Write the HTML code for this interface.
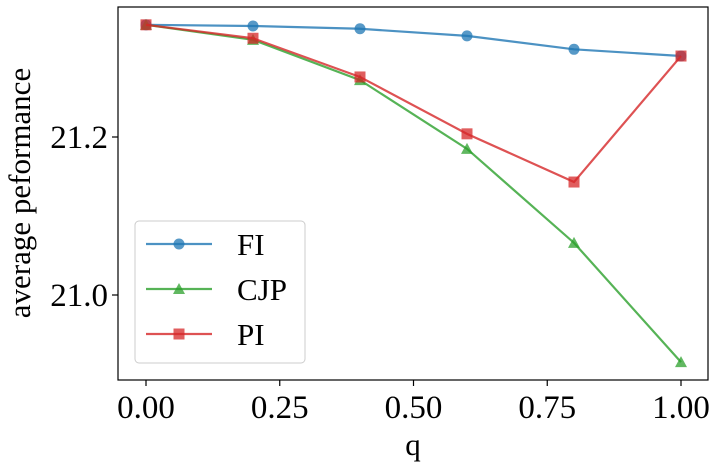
<!DOCTYPE html>
<html><head><meta charset="utf-8"><style>
body{margin:0;background:#fff}
text{font-family:"Liberation Serif",serif;fill:#000}
</style></head><body>
<svg id="chart" width="714" height="465">
<g id="plot"></g>
</svg>
<script>
const qValues=[0,0.2,0.4,0.6,0.8,1.0];
const fiValues=[21.342,21.3405,21.337,21.328,21.311,21.3025];
const cjpValues=[21.342,21.323,21.272,21.185,21.066,20.915];
const piValues=[21.342,21.325,21.276,21.204,21.143,21.3025];
const xTicks=[0,0.25,0.5,0.75,1.0];
const xTickLabels=["0.00","0.25","0.50","0.75","1.00"];
const yTicks=[21.0,21.2];
const yTickLabels=["21.0","21.2"];
const L=118,R=708,T=7,B=380;
function xs(v){return 146+v*(681-146);}
function ys(v){return 295-(v-21.0)*790;}
const NS="http://www.w3.org/2000/svg";
const g=document.getElementById('plot');
function mk(tag,attrs,parent){const e=document.createElementNS(NS,tag);for(const k in attrs)e.setAttribute(k,attrs[k]);(parent||g).appendChild(e);return e;}
xTicks.forEach((t,i)=>{
 const l=mk('line',{x1:xs(t),x2:xs(t),y1:B,y2:B+6,stroke:'#000','stroke-width':1.2});
 
 
 const tx=mk('text',{x:xs(t),y:B+38,'text-anchor':'middle','font-size':33});
 tx.textContent=xTickLabels[i];
 
 
});
yTicks.forEach((t,i)=>{
 const l=mk('line',{x1:L-6,x2:L,y1:ys(t),y2:ys(t),stroke:'#000','stroke-width':1.2});
 
 
 const tx=mk('text',{x:L-10,y:ys(t)+11,'text-anchor':'end','font-size':33});
 tx.textContent=yTickLabels[i];
 
 
});
const series=[
 {name:'FI',vals:fiValues,color:'#1f77b4',m:'circle'},
 {name:'CJP',vals:cjpValues,color:'#2ca02c',m:'tri'},
 {name:'PI',vals:piValues,color:'#d62728',m:'square'}];
function marker(type,x,y,c,parent){
 let e;
 if(type==='circle')e=mk('circle',{cx:x,cy:y,r:5.5,fill:c,'fill-opacity':0.75},parent);
 else if(type==='tri')e=mk('polygon',{points:`${x},${y-6} ${x-6},${y+5} ${x+6},${y+5}`,fill:c,'fill-opacity':0.75},parent);
 else e=mk('rect',{x:x-5.5,y:y-5.5,width:11,height:11,fill:c,'fill-opacity':0.75},parent);
 
 
}
series.forEach(s=>{
 const p=mk('polyline',{points:s.vals.map((v,i)=>xs(qValues[i])+','+ys(v)).join(' '),fill:'none',stroke:s.color,'stroke-width':2.2,'stroke-opacity':0.8});
 
 
 s.vals.forEach((v,i)=>marker(s.m,xs(qValues[i]),ys(v),s.color));
});
const fr=mk('rect',{x:L,y:T,width:R-L,height:B-T,fill:'none',stroke:'#000','stroke-width':1.2});


const leg=mk('g',{});


mk('rect',{x:135,y:221,width:170,height:142,rx:4,fill:'#fff','fill-opacity':0.8,stroke:'#ccc'},leg);
series.forEach((s,i)=>{
 const y=244+i*45;
 const e=mk('g',{},leg);
 
 
 mk('line',{x1:146,x2:212,y1:y,y2:y,stroke:s.color,'stroke-width':2.2,'stroke-opacity':0.8},e);
 marker(s.m,179,y,s.color,e);
 const t=mk('text',{x:237,y:y+11,'font-size':31},e);
 t.textContent=s.name;
});
const xl=mk('text',{x:413,y:455,'text-anchor':'middle','font-size':31});
xl.textContent='q';


const yl=mk('text',{x:0,y:0,'text-anchor':'middle','font-size':31,transform:'translate(30,193) rotate(-90)'});
yl.textContent='average peformance';


</script>
</body></html>
